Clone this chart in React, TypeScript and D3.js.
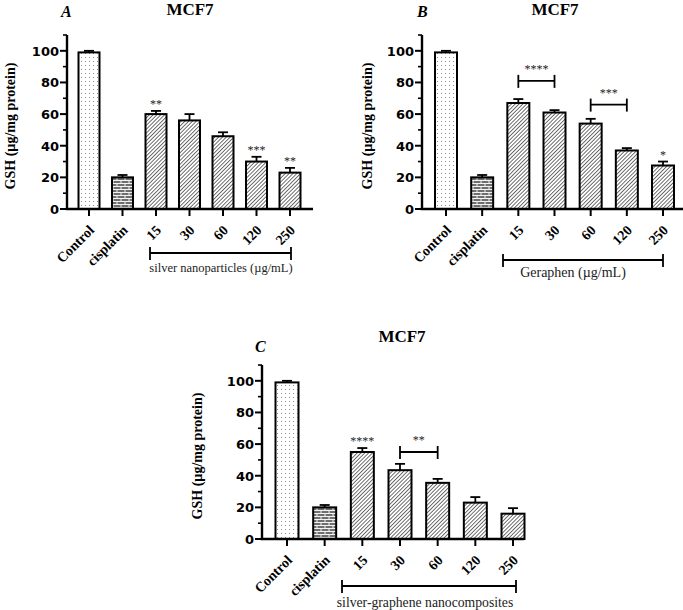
import { scaleLinear, scalePoint, range } from "d3";

const categories = ["Control", "cisplatin", "15", "30", "60", "120", "250"];
const yTicks = [0, 20, 40, 60, 80, 100];

const gshA = [99, 20, 60, 56, 46, 30, 23];
const errA = [1, 1.5, 2, 4, 2.5, 3, 3];
const starsA = ["", "", "**", "", "", "***", "**"];

const gshB = [99, 20, 67, 61, 54, 37, 27.5];
const errB = [1, 1.5, 2.5, 1.5, 3, 1.5, 2.5];
const starsB = ["", "", "", "", "", "", "*"];
const bracketsB = [
  { from: "15", to: "30", level: 81, label: "****" },
  { from: "60", to: "120", level: 66, label: "***" },
];

const gshC = [99, 20, 55, 43.5, 35.5, 23, 16];
const errC = [1, 1.5, 2.5, 4, 2.5, 3.5, 3.5];
const starsC = ["", "", "****", "", "", "", ""];
const bracketsC = [{ from: "30", to: "60", level: 55, label: "**" }];

type Bracket = { from: string; to: string; level: number; label: string };

type PanelProps = {
  id: string;
  letter: string;
  values: number[];
  errors: number[];
  stars: string[];
  brackets: Bracket[];
  groupLabel: string;
  axisX: number;
  axisEnd: number;
  firstX: number;
  lastX: number;
  yTop: number;
  yZero: number;
  barW: number;
  letterPos: [number, number];
  titlePos: [number, number];
  yLabelX: number;
  group: { x0: number; x1: number; y: number; textY: number; textX: number; size: number };
};

const serif = "'Liberation Serif', 'Times New Roman', serif";
const sans = "'DejaVu Sans', Verdana, sans-serif";
const starFill = "#222";

function fillFor(i: number, id: string) {
  if (i === 0) return `url(#dots-${id})`;
  if (i === 1) return `url(#brick-${id})`;
  return `url(#hatch-${id})`;
}

function Panel(p: PanelProps) {
  const y = scaleLinear().domain([0, 110]).range([p.yZero, p.yTop]);
  const x = scalePoint<string>().domain(categories).range([p.firstX, p.lastX]);
  const minor = range(10, 111, 20);
  const mid = (p.yTop + p.yZero) / 2;

  return (
    <g>
      <defs>
        <pattern id={`dots-${p.id}`} width={4} height={4} patternUnits="userSpaceOnUse">
          <rect width={4} height={4} fill="#fff" />
          <rect x={1} y={1} width={1} height={1} fill="#8a8a8a" />
        </pattern>
        <pattern id={`brick-${p.id}`} width={8} height={6} patternUnits="userSpaceOnUse">
          <rect width={8} height={6} fill="#6f6f6f" />
          <path d="M0 0.5H8M0 3.5H8M1 0.5V3.5M5 3.5V6.5" stroke="#f2f2f2" strokeWidth={1} fill="none" />
        </pattern>
        <pattern id={`hatch-${p.id}`} width={2.7} height={2.7} patternUnits="userSpaceOnUse"
          patternTransform="rotate(45)">
          <rect width={2.7} height={2.7} fill="#fff" />
          <line x1={0} y1={0} x2={0} y2={2.7} stroke="#111" strokeWidth={1.2} />
        </pattern>
      </defs>

      <text x={p.letterPos[0]} y={p.letterPos[1]} fontFamily={serif} fontStyle="italic"
        fontWeight="bold" fontSize={16}>{p.letter}</text>
      <text x={p.titlePos[0]} y={p.titlePos[1]} fontFamily={serif} fontWeight="bold"
        fontSize={17} textAnchor="middle">MCF7</text>

      <text transform={`translate(${p.yLabelX},${mid + 4}) rotate(-90)`} fontFamily={serif}
        fontWeight="bold" fontSize={14} textAnchor="middle">GSH (µg/mg protein)</text>

      {categories.map((c, i) => {
        const cx = x(c) ?? 0;
        const top = y(p.values[i]);
        const et = y(p.values[i] + p.errors[i]);
        return (
          <g key={c}>
            <line x1={cx} x2={cx} y1={top} y2={et} stroke="#000" strokeWidth={1.8} />
            <line x1={cx - 5} x2={cx + 5} y1={et} y2={et} stroke="#000" strokeWidth={1.8} />
            <rect x={cx - p.barW / 2} y={top} width={p.barW} height={p.yZero - top}
              fill={fillFor(i, p.id)} stroke="#000" strokeWidth={2} />
            {p.stars[i] && (
              <text x={cx} y={et - 3} textAnchor="middle" fontFamily={serif} fontSize={12}
                fill={starFill}>{p.stars[i]}</text>
            )}
            <line x1={cx} x2={cx} y1={p.yZero} y2={p.yZero + 7} stroke="#000" strokeWidth={2} />
            <text transform={`translate(${cx + 6},${p.yZero + 22}) rotate(-45)`} textAnchor="end"
              fontFamily={serif} fontWeight="bold" fontSize={14}>{c}</text>
          </g>
        );
      })}

      {p.brackets.map((b) => {
        const x0 = x(b.from) ?? 0;
        const x1 = x(b.to) ?? 0;
        const by = y(b.level);
        return (
          <g key={b.label + b.from}>
            <line x1={x0} x2={x1} y1={by} y2={by} stroke="#000" strokeWidth={1.8} />
            <line x1={x0} x2={x0} y1={by - 6} y2={by + 7} stroke="#000" strokeWidth={1.8} />
            <line x1={x1} x2={x1} y1={by - 6} y2={by + 7} stroke="#000" strokeWidth={1.8} />
            <text x={(x0 + x1) / 2} y={by - 8} textAnchor="middle" fontFamily={serif}
              fontSize={12} fill={starFill}>{b.label}</text>
          </g>
        );
      })}

      <line x1={p.axisX} x2={p.axisX} y1={p.yTop} y2={p.yZero} stroke="#000" strokeWidth={2.4} />
      <line x1={p.axisX - 1.2} x2={p.axisEnd} y1={p.yZero} y2={p.yZero} stroke="#000" strokeWidth={2.4} />
      {yTicks.map((t) => (
        <g key={t}>
          <line x1={p.axisX - 7} x2={p.axisX} y1={y(t)} y2={y(t)} stroke="#000" strokeWidth={2} />
          <text x={p.axisX - 8} y={y(t) + 5} textAnchor="end" fontFamily={sans} fontWeight="bold"
            fontSize={13}>{t}</text>
        </g>
      ))}
      {minor.map((t) => (
        <line key={t} x1={p.axisX - 4} x2={p.axisX} y1={y(t)} y2={y(t)} stroke="#000" strokeWidth={1.6} />
      ))}

      <line x1={p.group.x0} x2={p.group.x1} y1={p.group.y} y2={p.group.y} stroke="#000" strokeWidth={1.8} />
      <line x1={p.group.x0} x2={p.group.x0} y1={p.group.y - 6} y2={p.group.y + 7} stroke="#000" strokeWidth={1.8} />
      <line x1={p.group.x1} x2={p.group.x1} y1={p.group.y - 6} y2={p.group.y + 7} stroke="#000" strokeWidth={1.8} />
      <text x={p.group.textX} y={p.group.textY} textAnchor="middle" fontFamily={serif}
        fontSize={p.group.size} fill="#222">{p.groupLabel}</text>
    </g>
  );
}

export default function App() {
  return (
    <svg width={683} height={610} style={{ position: "absolute", left: 0, top: 0, background: "#fff" }}>
      <Panel id="a" letter="A" values={gshA} errors={errA} stars={starsA} brackets={[]}
        groupLabel="silver nanoparticles (µg/mL)"
        axisX={67} axisEnd={313} firstX={89} lastX={290} yTop={35} yZero={209} barW={21}
        letterPos={[61, 17]} titlePos={[190, 15]} yLabelX={15}
        group={{ x0: 150, x1: 291, y: 253, textX: 221, textY: 272, size: 12.5 }} />
      <Panel id="b" letter="B" values={gshB} errors={errB} stars={starsB} brackets={bracketsB}
        groupLabel="Geraphen (µg/mL)"
        axisX={422} axisEnd={683} firstX={446} lastX={663} yTop={35} yZero={209} barW={22}
        letterPos={[417, 17]} titlePos={[555, 15]} yLabelX={372}
        group={{ x0: 503, x1: 663, y: 260, textX: 573, textY: 277, size: 14 }} />
      <Panel id="c" letter="C" values={gshC} errors={errC} stars={starsC} brackets={bracketsC}
        groupLabel="silver-graphene nanocomposites"
        axisX={262} axisEnd={524} firstX={287} lastX={513} yTop={365} yZero={539} barW={23}
        letterPos={[255, 352]} titlePos={[402, 342]} yLabelX={202}
        group={{ x0: 342, x1: 516, y: 586, textX: 425, textY: 607, size: 13.7 }} />
    </svg>
  );
}
